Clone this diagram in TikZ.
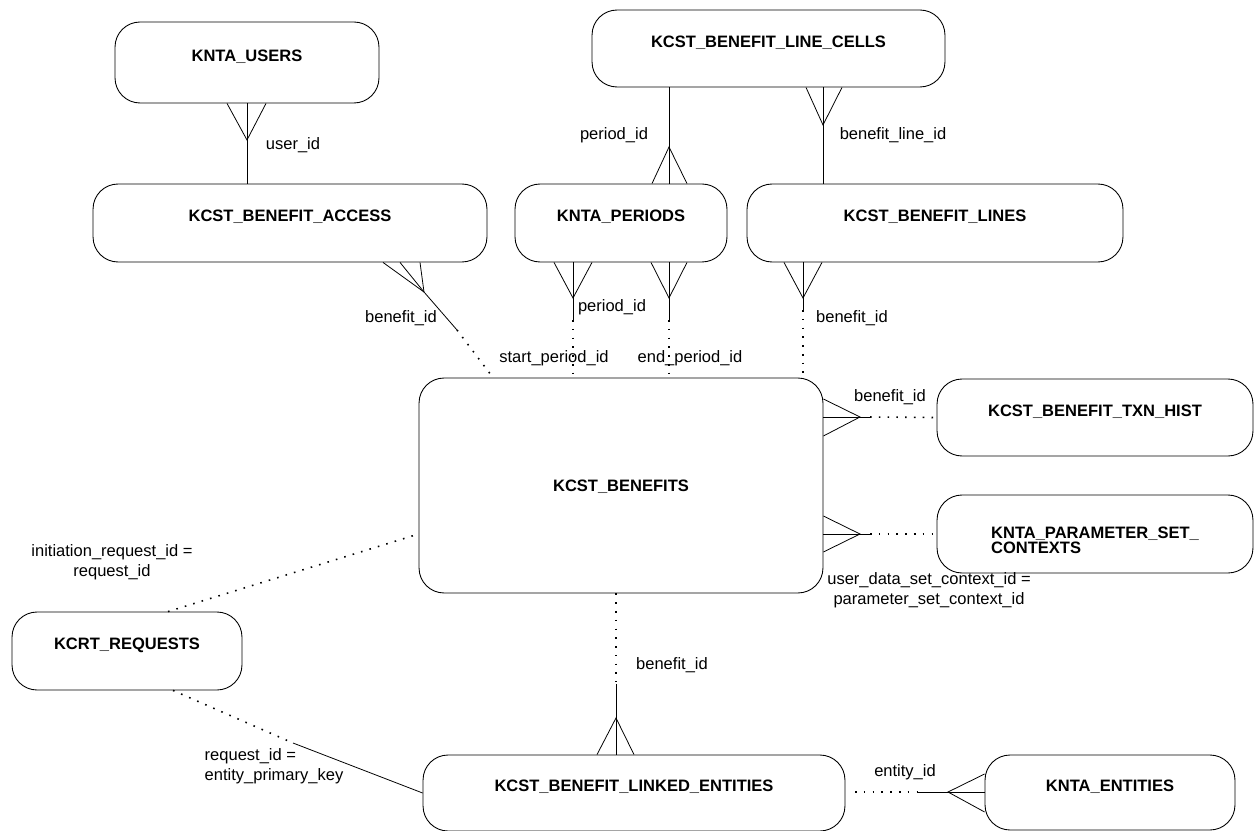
\documentclass[tikz,border=0pt]{standalone}
\usepackage{fontspec}
\setmainfont{Liberation Sans}

\tikzset{
  tbl/.style={draw, line width=0.5pt, rounded corners=0.5cm, inner sep=0pt,
    font=\bfseries\fontsize{9.4}{8.5}\selectfont, text height=6.8pt, text depth=8pt},
  lbl/.style={font=\fontsize{9.4}{11.5}\selectfont, inner sep=0pt, align=center},
  rel/.style={line width=0.45pt},
  opt/.style={line width=0.9pt, dash pattern=on 0.9pt off 4.1pt},
}

\begin{document}
\begin{tikzpicture}[x=0.02cm,y=-0.02cm]
\useasboundingbox (0,0) rectangle (1254,831);
% tables
\node[tbl, minimum width=5.28cm, minimum height=1.62cm] (users) at (247,62.5) {KNTA\_USERS};
\node[tbl, minimum width=7.88cm, minimum height=1.56cm] (access) at (290,223) {KCST\_BENEFIT\_ACCESS};
\node[tbl, minimum width=7.06cm, minimum height=1.54cm] (cells) at (768.5,48.5) {KCST\_BENEFIT\_LINE\_CELLS};
\node[tbl, minimum width=4.24cm, minimum height=1.56cm] (periods) at (621,223) {KNTA\_PERIODS};
\node[tbl, minimum width=7.52cm, minimum height=1.56cm] (lines) at (935,223) {KCST\_BENEFIT\_LINES};
\node[tbl, minimum width=8.08cm, minimum height=4.30cm, text depth=0pt] (benefits) at (621,485.5) {KCST\_BENEFITS};
\node[tbl, minimum width=6.32cm, minimum height=1.54cm] (txn) at (1095,417.5) {KCST\_BENEFIT\_TXN\_HIST};
\node[tbl, minimum width=6.32cm, minimum height=1.56cm, text height=, text depth=, align=left] (params) at (1095,534) {\rule{0pt}{14pt}KNTA\_PARAMETER\_SET\_\\CONTEXTS};
\node[tbl, minimum width=4.60cm, minimum height=1.56cm] (requests) at (127,651) {KCRT\_REQUESTS};
\node[tbl, minimum width=8.44cm, minimum height=1.52cm] (linked) at (634,793) {KCST\_BENEFIT\_LINKED\_ENTITIES};
\node[tbl, minimum width=5.00cm, minimum height=1.50cm] (entities) at (1110,792.5) {KNTA\_ENTITIES};

% users - access
\draw[rel] (users.south) -- (users.south |- access.north);
\draw[rel] (227,0 |- users.south) -- (247,140) -- (266,0 |- users.south);
% cells - periods
\draw[rel] (669,0 |- cells.south) -- (669,0 |- periods.north);
\draw[rel] (652,0 |- periods.north) -- (669,147) -- (687,0 |- periods.north);
% cells - lines
\draw[rel] (823,0 |- cells.south) -- (823,0 |- lines.north);
\draw[rel] (806,0 |- cells.south) -- (823,125) -- (842,0 |- cells.south);
% access - benefits
\coordinate (af) at (424,292);
\coordinate (ab) at (457,330);
\draw[rel] (383,0 |- access.south) -- (af) -- (420,0 |- access.south);
\draw[rel] (400,0 |- access.south) -- (af) -- (ab);
\draw[opt] (ab) -- (493,0 |- benefits.north);
% periods - benefits (start)
\draw[rel] (554,0 |- periods.south) -- (573,298) -- (592,0 |- periods.south);
\draw[rel] (573,0 |- periods.south) -- (573,320);
\draw[opt] (573,320) -- (573,0 |- benefits.north);
% periods - benefits (end)
\draw[rel] (651,0 |- periods.south) -- (669,298) -- (687,0 |- periods.south);
\draw[rel] (669,0 |- periods.south) -- (669,320);
\draw[opt] (669,320) -- (669,0 |- benefits.north);
% lines - benefits
\draw[rel] (784,0 |- lines.south) -- (803,298) -- (822,0 |- lines.south);
\draw[rel] (803,0 |- lines.south) -- (803,310);
\draw[opt] (803,310) -- (803,0 |- benefits.north);
% benefits - txn
\draw[rel] (benefits.east |- 0,399) -- (860,417) -- (benefits.east |- 0,436);
\draw[rel] (benefits.east |- 0,417) -- (870,417);
\draw[opt] (870,417) -- (txn.west);
% benefits - params
\draw[rel] (benefits.east |- 0,516) -- (860,534) -- (benefits.east |- 0,552);
\draw[rel] (benefits.east |- 0,534) -- (870,534);
\draw[opt] (870,534) -- (params.west);
% requests - benefits
\draw[opt] (168,0 |- requests.north) -- (benefits.west |- 0,534);
% requests - linked
\coordinate (rb) at (293,743);
\draw[opt] (173,0 |- requests.south) -- (rb);
\draw[rel] (rb) -- (linked.west);
% benefits - linked
\draw[opt] (616,0 |- benefits.south) -- (616,682);
\draw[rel] (616,684) -- (616,0 |- linked.north);
\draw[rel] (597,0 |- linked.north) -- (616,718) -- (634,0 |- linked.north);
% linked - entities
\draw[opt] (855,792) -- (918,792);
\draw[rel] (918,792) -- (entities.west |- 0,792);
\draw[rel] (entities.west |- 0,774) -- (948,792) -- (entities.west |- 0,812);

% labels
\node[lbl] (luser) at (293,145) {user\_id};
\node[lbl] (lper1) at (614,135) {period\_id};
\node[lbl] (lline) at (893,135) {benefit\_line\_id};
\node[lbl] (lben1) at (401,318) {benefit\_id};
\node[lbl] (lper2) at (612,307) {period\_id};
\node[lbl] (lstart) at (554,358) {start\_period\_id};
\node[lbl] (lend) at (690,358) {end\_period\_id};
\node[lbl] (lben2) at (852,318) {benefit\_id};
\node[lbl] (lben3) at (890,397) {benefit\_id};
\node[lbl] (lctx) at (929,590) {user\_data\_set\_context\_id =\\parameter\_set\_context\_id};
\node[lbl] (linit) at (112,562) {initiation\_request\_id =\\request\_id};
\node[lbl, align=left] (lreq) at (274,766) {request\_id =\\entity\_primary\_key};
\node[lbl] (lben4) at (672,665) {benefit\_id};
\node[lbl] (lent) at (905,772) {entity\_id};
\end{tikzpicture}
\end{document}
